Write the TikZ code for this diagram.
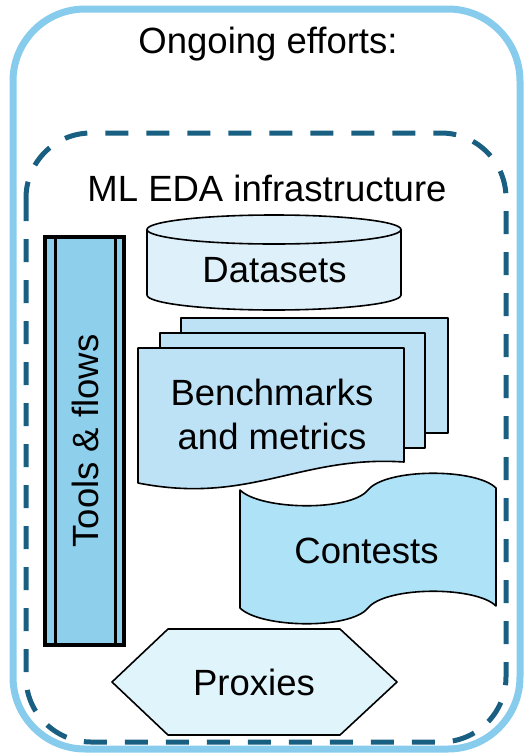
\documentclass[tikz,border=0pt]{standalone}
\usepackage{fontspec}
\setmainfont{Liberation Sans}
\definecolor{outerblue}{RGB}{135,204,236}
\definecolor{dashblue}{RGB}{24,95,130}
\definecolor{toolfill}{RGB}{142,207,236}
\definecolor{datafill}{RGB}{222,240,250}
\definecolor{benchfill}{RGB}{190,226,245}
\definecolor{contestfill}{RGB}{174,226,247}
\definecolor{proxyfill}{RGB}{224,244,252}
\tikzset{
  lbl/.style={font=\fontsize{36.5}{45}\selectfont, inner sep=0pt, anchor=base},
  shapeline/.style={draw=black, line width=1.6pt, line join=round},
}
\begin{document}
\begin{tikzpicture}[x=1pt,y=-1pt]
\useasboundingbox (0,0) rectangle (525,756);
% outer frame
\draw[outerblue, line width=7pt, rounded corners=72pt] (13,9) rectangle (520,749);
% dashed inner frame
\draw[dashblue, line width=5pt, dash pattern=on 23pt off 18pt, rounded corners=65pt] (26,133) rectangle (506,742);
\node[lbl] (ongoing) at (268,53) {Ongoing efforts:};
\node[lbl] (mleda) at (267,201) {ML EDA infrastructure};
% Tools & flows
\draw[fill=toolfill, line width=3.5pt] (45,237) rectangle (124,645);
\draw[line width=3pt] (55,237) -- (55,645) (115.5,237) -- (115.5,645);
\node[font=\fontsize{36.5}{45}\selectfont, rotate=90, inner sep=0pt] (tools) at (85.5,441) {Tools \& flows};
% Datasets cylinder
\draw[shapeline, fill=datafill] (147,229.5) -- (147,295) arc[start angle=180, end angle=360, x radius=127pt, y radius=15pt] -- (401,229.5) arc[start angle=0, end angle=180, x radius=127pt, y radius=14.5pt] -- cycle;
\draw[shapeline] (147,229.5) arc[start angle=180, end angle=360, x radius=127pt, y radius=14.5pt];
\node[lbl] (datasets) at (274.5,282) {Datasets};
% Benchmarks multidocument
\draw[shapeline, fill=benchfill] (181,318) rectangle (448,433);
\draw[shapeline, fill=benchfill] (160,333) rectangle (425,448);
\draw[shapeline, fill=benchfill] (138,483) -- (138,348) -- (404,348) -- (404,462) .. controls (300,455) and (250,505) .. (138,483) -- cycle;
\node[lbl] (bench1) at (272,405) {Benchmarks};
\node[lbl] (bench2) at (272,449) {and metrics};
% Contests punched tape
\draw[shapeline, fill=contestfill] (240,490) .. controls (260,510) and (350,512) .. (368,490) .. controls (386,468) and (476,468) .. (496,488)
  -- (496,606) .. controls (476,586) and (386,586) .. (368,608) .. controls (350,630) and (260,628) .. (240,608) -- cycle;
\node[lbl] (contests) at (366.5,563) {Contests};
% Proxies hexagon
\draw[shapeline, fill=proxyfill] (112,682) -- (168,629) -- (340,629) -- (397,682) -- (340,735) -- (168,735) -- cycle;
\node[lbl] (proxies) at (254,695) {Proxies};
\end{tikzpicture}
\end{document}
